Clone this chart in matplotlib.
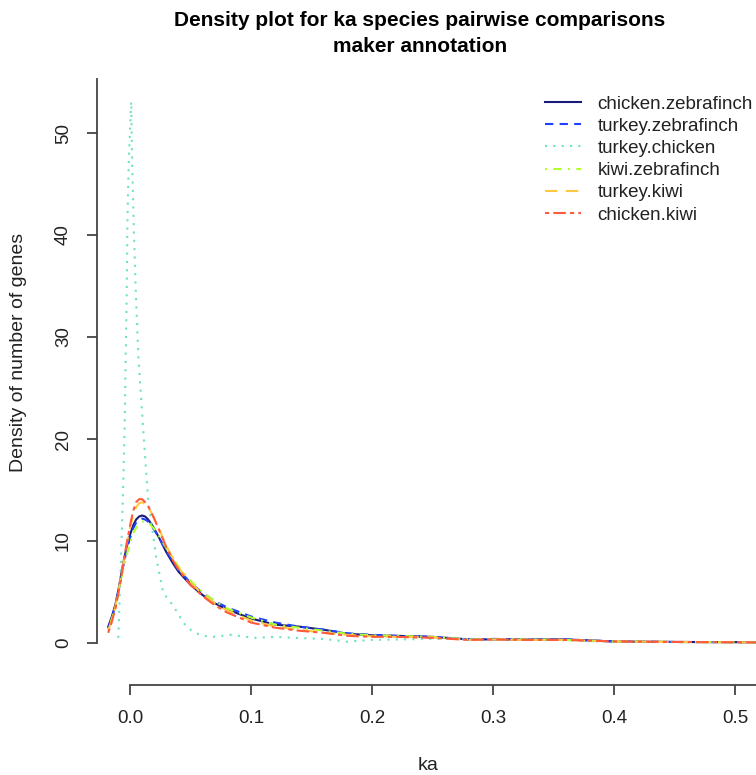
import matplotlib
matplotlib.use('Agg')
import matplotlib.pyplot as plt

plt.rcParams['font.family'] = ['Liberation Sans', 'DejaVu Sans']

# ---- data ----
series_names = ['chicken.zebrafinch', 'turkey.zebrafinch', 'turkey.chicken',
                'kiwi.zebrafinch', 'turkey.kiwi', 'chicken.kiwi']

ka_grid = [-0.018, -0.015, -0.012, -0.009, -0.006, -0.003, 0.0, 0.0025, 0.005,
           0.0075, 0.01, 0.0125, 0.015, 0.0175, 0.02, 0.025, 0.03, 0.035, 0.04,
           0.05, 0.06, 0.07, 0.08, 0.1, 0.12, 0.14, 0.16, 0.18, 0.2, 0.22,
           0.25, 0.28, 0.3, 0.33, 0.36, 0.4, 0.45, 0.5, 0.55, 0.6]

chicken_zebrafinch = [1.6, 2.6, 3.8, 5.6, 7.6, 9.3, 10.6, 11.5, 12.1,
                      12.4, 12.5, 12.4, 12.1, 11.7, 11.2, 10.1, 8.9, 7.9, 7.0,
                      5.7, 4.7, 3.9, 3.3, 2.4, 1.8, 1.6, 1.3, 0.9, 0.75, 0.7,
                      0.6, 0.35, 0.35, 0.35, 0.35, 0.15, 0.1, 0.08, 0.05, 0.03]
turkey_zebrafinch = [1.4, 2.5, 3.7, 5.4, 7.3, 9.0, 10.3, 11.2, 11.8,
                     12.1, 12.2, 12.1, 11.9, 11.5, 11.1, 10.1, 9.0, 8.1, 7.2,
                     5.9, 4.9, 4.1, 3.5, 2.6, 2.0, 1.6, 1.3, 0.95, 0.8, 0.7,
                     0.6, 0.35, 0.4, 0.35, 0.35, 0.15, 0.1, 0.08, 0.05, 0.03]
kiwi_zebrafinch = [1.3, 2.4, 3.5, 5.2, 7.0, 8.5, 9.8, 10.7, 11.3,
                   11.7, 11.9, 11.9, 11.8, 11.5, 11.2, 10.3, 9.3, 8.4, 7.5,
                   6.1, 5.0, 4.1, 3.4, 2.5, 1.8, 1.5, 1.2, 0.9, 0.75, 0.7,
                   0.6, 0.35, 0.35, 0.35, 0.3, 0.15, 0.1, 0.07, 0.05, 0.03]
turkey_kiwi = [1.2, 2.3, 3.6, 5.5, 7.5, 9.6, 11.3, 12.5, 13.3,
               13.7, 13.8, 13.6, 13.3, 12.8, 12.2, 10.9, 9.5, 8.4, 7.4,
               5.9, 4.8, 3.9, 3.2, 2.2, 1.6, 1.3, 1.0, 0.8, 0.65, 0.6,
               0.55, 0.3, 0.35, 0.3, 0.3, 0.15, 0.1, 0.07, 0.04, 0.02]
chicken_kiwi = [1.0, 2.1, 3.4, 5.3, 7.4, 9.6, 11.5, 12.9, 13.8,
                14.1, 14.1, 13.8, 13.4, 12.8, 12.2, 10.8, 9.4, 8.2, 7.2,
                5.7, 4.6, 3.7, 3.0, 2.0, 1.5, 1.2, 1.0, 0.7, 0.6, 0.6,
                0.5, 0.3, 0.35, 0.3, 0.3, 0.15, 0.1, 0.07, 0.04, 0.02]

turkey_chicken_ka = [-0.0097, -0.0075, -0.0055, -0.0044, -0.0036, -0.0027,
                     -0.0022, -0.001, 0.001, 0.0017, 0.003, 0.0047, 0.0069,
                     0.0105, 0.015, 0.022, 0.0275, 0.036, 0.041, 0.046, 0.052,
                     0.06, 0.069, 0.083, 0.09, 0.102, 0.12, 0.135, 0.16, 0.179,
                     0.2, 0.25, 0.3, 0.35, 0.4, 0.45, 0.5, 0.55, 0.6]
turkey_chicken = [0.5, 8.0, 16.0, 21.6, 28.1, 34.6,
                  41.2, 47.4, 53.1, 47.4, 41.2, 34.6, 28.1,
                  21.6, 14.0, 8.1, 4.9, 3.6, 2.6, 1.7, 1.1,
                  0.7, 0.6, 0.8, 0.7, 0.5, 0.6, 0.5, 0.4, 0.13,
                  0.3, 0.4, 0.4, 0.3, 0.1, 0.08, 0.06, 0.04, 0.02]

x_ticks = [0.0, 0.1, 0.2, 0.3, 0.4, 0.5]
y_ticks = [0, 10, 20, 30, 40, 50]

colors = ['#1a1a7a', '#2040ff', '#70e0c8', '#b0ff30', '#ffc840', '#ff5a3c']
styles = ['-', (0, (4, 3)), (0, (1, 3)), (0, (1, 3, 4, 3)), (0, (6, 4)),
          (0, (2, 2, 6, 2))]

W, H = 756, 775
fig = plt.figure(figsize=(W / 100, H / 100), dpi=100)

px_left, px_right, px_top, px_bottom = 97, 880.2, 79, 664.7
ax = fig.add_axes([px_left / W, 1 - px_bottom / H,
                   (px_right - px_left) / W, (px_bottom - px_top) / H])
ax.set_xlim(-0.0273, 0.62)
ax.set_ylim(-2.13, 55.3)

data = [(ka_grid, chicken_zebrafinch), (ka_grid, turkey_zebrafinch),
        (turkey_chicken_ka, turkey_chicken), (ka_grid, kiwi_zebrafinch),
        (ka_grid, turkey_kiwi), (ka_grid, chicken_kiwi)]
for (xs, ys), name, c, ls in zip(data, series_names, colors, styles):
    ax.plot(xs, ys, color=c, linestyle=ls, linewidth=1.5, label=name,
            clip_on=False)

for s in ['top', 'right']:
    ax.spines[s].set_visible(False)
ax.spines['left'].set_bounds(0, 55.3)
ax.spines['bottom'].set_position(('outward', 14.4))
ax.spines['bottom'].set_bounds(0, 0.62)
for s in ['left', 'bottom']:
    ax.spines[s].set_color('#444444')
    ax.spines[s].set_linewidth(1.3)

ax.set_xticks(x_ticks)
ax.set_xticklabels(['%.1f' % v for v in x_ticks])
ax.set_yticks(y_ticks)
ax.set_yticklabels([str(v) for v in y_ticks], rotation=90, va='center')
ax.tick_params(axis='both', length=7, width=1.3, color='#444444',
               labelsize=13.5, labelcolor='#222222')
ax.tick_params(axis='x', pad=11)
ax.tick_params(axis='y', pad=11)

fig.text(420 / W, 1 - 20 / H, 'Density plot for ka species pairwise comparisons',
         ha='center', va='center', fontsize=15, fontweight='bold')
fig.text(420 / W, 1 - 46 / H, 'maker annotation',
         ha='center', va='center', fontsize=15, fontweight='bold')
fig.text(19 / W, 1 - 352 / H, 'Density of number of genes', rotation=90,
         ha='center', va='center', fontsize=14, color='#222222')
fig.text(428 / W, 1 - 765 / H, 'ka', ha='center', va='center',
         fontsize=14, color='#222222')

leg = fig.legend(loc='upper left', bbox_to_anchor=(545 / W, 1 - 95.5 / H),
                 frameon=False, fontsize=13.5, handlelength=1.9,
                 handletextpad=0.9, labelspacing=0.27, borderpad=0,
                 borderaxespad=0)
for t in leg.get_texts():
    t.set_color('#222222')

fig.savefig('out.png', dpi=100)
